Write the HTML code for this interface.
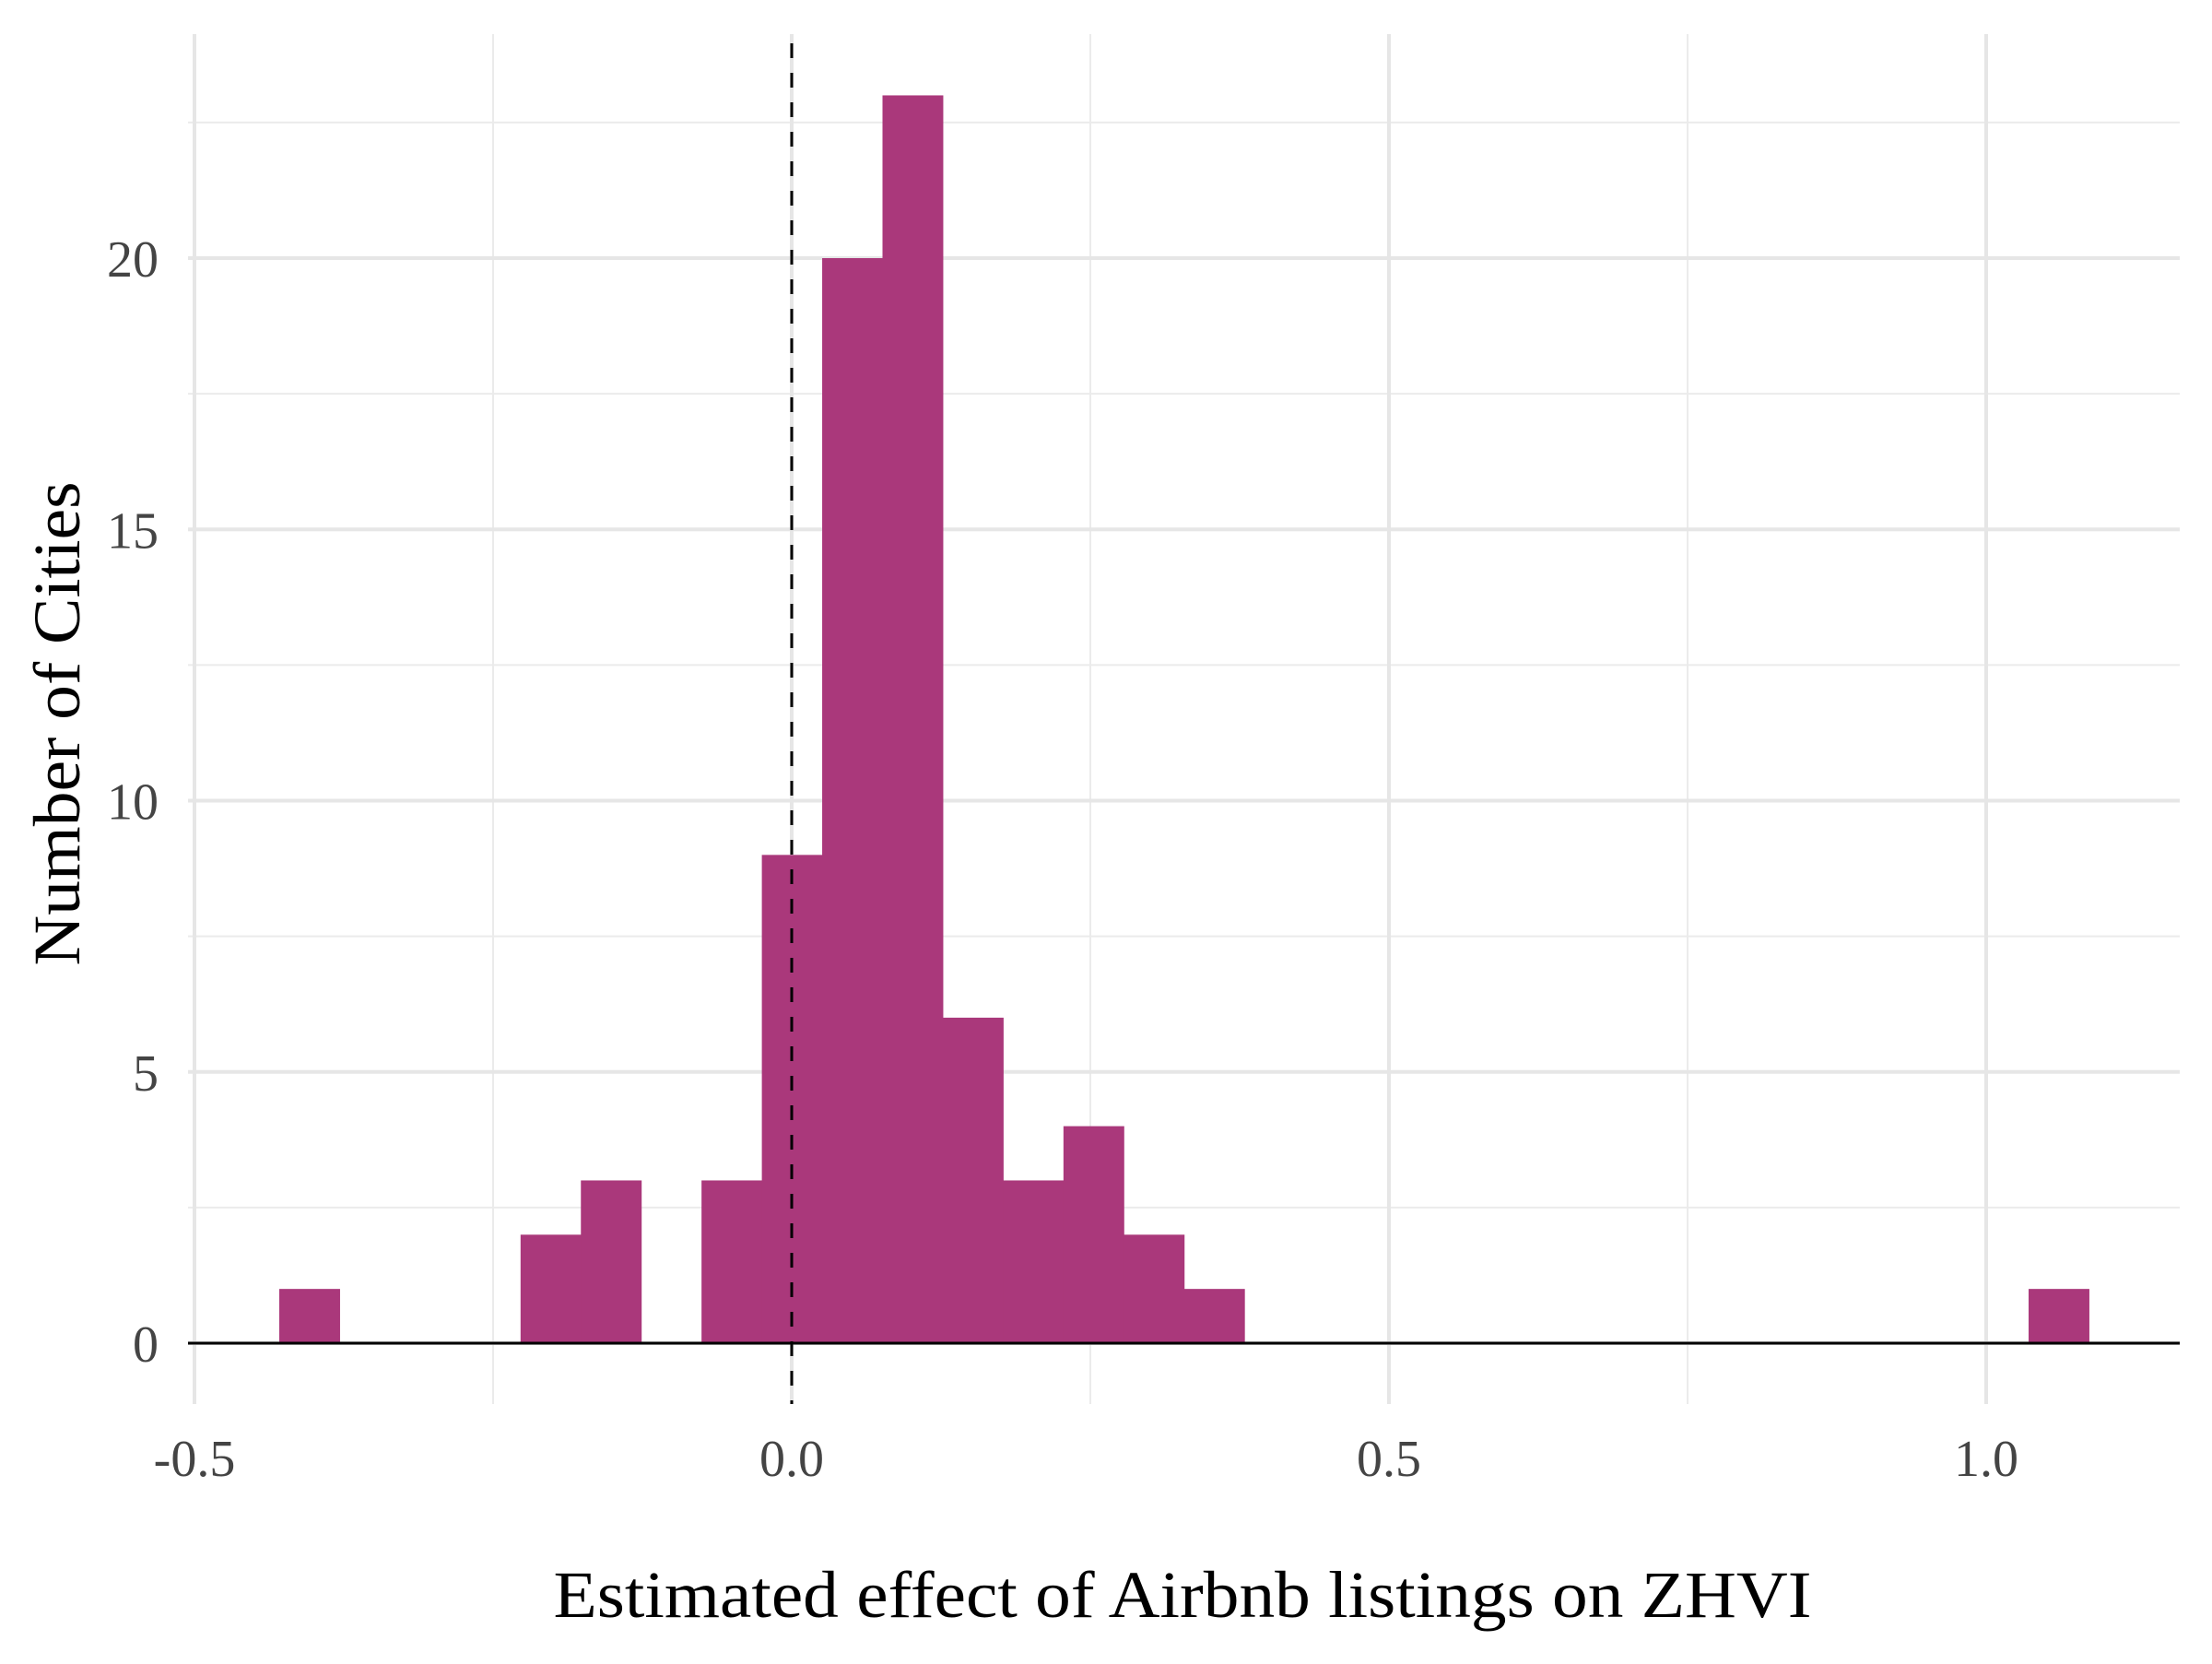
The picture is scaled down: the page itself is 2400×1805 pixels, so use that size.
<!DOCTYPE html>
<html><head><meta charset="utf-8"><style>
html,body{margin:0;padding:0;background:#fff;}
svg text{font-family:"Liberation Serif",serif;}
</style></head><body>
<svg width="2400" height="1800" viewBox="0 0 2400 1800" xmlns="http://www.w3.org/2000/svg">
<g id="grid"></g>
<g id="bars"></g>
<g id="axes"></g>
<text x="1283" y="1754" font-size="72" text-anchor="middle" textLength="1365" lengthAdjust="spacingAndGlyphs" fill="#000">Estimated effect of Airbnb listings on ZHVI</text>
<text transform="translate(86,785) rotate(-90)" font-size="72" text-anchor="middle" textLength="525" lengthAdjust="spacingAndGlyphs" fill="#000">Number of Cities</text>
</svg>
<script>
const binStart = -0.429;
const binWidth = 0.0505;
const counts = [1,0,0,0,2,3,0,3,9,20,23,6,3,4,2,1,0,0,0,0,0,0,0,0,0,0,0,0,0,1];
const xTicks = [-0.5, 0, 0.5, 1.0];
const xTickLabels = ["-0.5","0.0","0.5","1.0"];
const xMinor = [-0.25, 0.25, 0.75];
const yTicks = [0,5,10,15,20];
const yTickLabels = ["0","5","10","15","20"];
const yMinor = [2.5,7.5,12.5,17.5,22.5];
const refLine = 0;

const NS="http://www.w3.org/2000/svg";
const L=204,R=2365,T=37,B=1523;
const xs=v=>859+(v-0)*1296;
const ys=v=>1457-v*58.85;
function mk(tag,attrs,parent){const e=document.createElementNS(NS,tag);for(const k in attrs)e.setAttribute(k,attrs[k]);parent.appendChild(e);return e;}
const grid=document.getElementById('grid'),bars=document.getElementById('bars'),axes=document.getElementById('axes');
yMinor.forEach(v=>{const e=mk('line',{x1:L,x2:R,y1:ys(v),y2:ys(v),stroke:'#ebebeb','stroke-width':2},grid);

});
xMinor.forEach(v=>{const e=mk('line',{x1:xs(v),x2:xs(v),y1:T,y2:B,stroke:'#ebebeb','stroke-width':2},grid);

});
yTicks.forEach((v,i)=>{const e=mk('line',{x1:L,x2:R,y1:ys(v),y2:ys(v),stroke:'#e6e6e6','stroke-width':4},grid);


const t=mk('text',{x:172,y:ys(v)+20,'font-size':56,'text-anchor':'end',fill:'#444'},axes);t.textContent=yTickLabels[i];

});
xTicks.forEach((v,i)=>{const e=mk('line',{x1:xs(v),x2:xs(v),y1:T,y2:B,stroke:'#e6e6e6','stroke-width':4},grid);


const t=mk('text',{x:xs(v),y:1601,'font-size':56,'text-anchor':'middle',fill:'#444'},axes);t.textContent=xTickLabels[i];

});
counts.forEach((c,i)=>{if(c<=0)return;const x0=xs(binStart+i*binWidth),x1=xs(binStart+(i+1)*binWidth);
const r=mk('rect',{x:x0,y:ys(c),width:x1-x0+0.5,height:ys(0)-ys(c),fill:'#aa387b'},bars);

});
const z=mk('line',{x1:L,x2:R,y1:ys(0),y2:ys(0),stroke:'#000','stroke-width':3},axes);


const d=mk('line',{x1:xs(refLine),x2:xs(refLine),y1:T+10,y2:B,stroke:'#000','stroke-width':3,'stroke-dasharray':'16,16'},axes);


</script>
</body></html>
